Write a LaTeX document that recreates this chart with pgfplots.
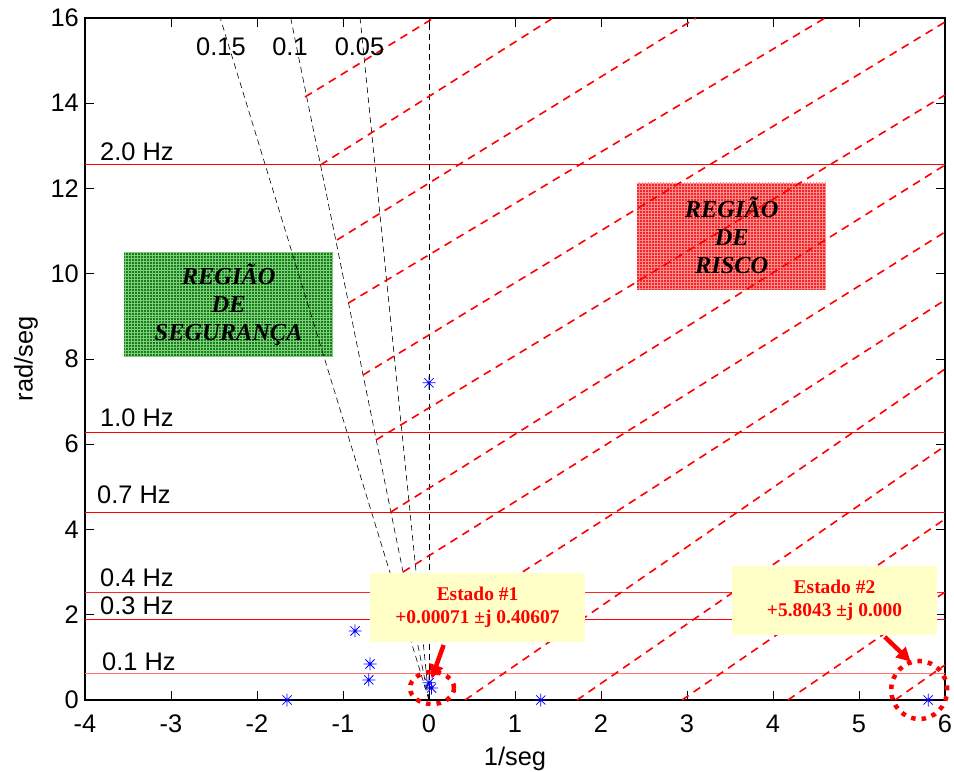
\documentclass[border=0pt]{standalone}
\usepackage{pgfplots}
\pgfplotsset{compat=1.18}
\usepackage{fontspec}
\setmainfont{Liberation Sans}
\newfontfamily\tnr{Liberation Serif}
\usetikzlibrary{patterns,arrows.meta}
\definecolor{mblue}{rgb}{0,0,1}
\definecolor{lyel}{rgb}{1,1,0.78}
\definecolor{gbox}{rgb}{0.08,0.50,0.08}
\definecolor{gpat}{rgb}{0.50,0.80,0.50}
\definecolor{rbox}{rgb}{0.95,0.15,0.15}
\definecolor{rpat}{rgb}{1,0.55,0.55}
\pgfdeclareplotmark{mstar}{%
  \pgfpathmoveto{\pgfqpoint{-\pgfplotmarksize}{0pt}}\pgfpathlineto{\pgfqpoint{\pgfplotmarksize}{0pt}}%
  \pgfpathmoveto{\pgfqpoint{0pt}{-\pgfplotmarksize}}\pgfpathlineto{\pgfqpoint{0pt}{\pgfplotmarksize}}%
  \pgfpathmoveto{\pgfqpoint{-.707\pgfplotmarksize}{-.707\pgfplotmarksize}}\pgfpathlineto{\pgfqpoint{.707\pgfplotmarksize}{.707\pgfplotmarksize}}%
  \pgfpathmoveto{\pgfqpoint{-.707\pgfplotmarksize}{.707\pgfplotmarksize}}\pgfpathlineto{\pgfqpoint{.707\pgfplotmarksize}{-.707\pgfplotmarksize}}%
  \pgfusepathqstroke}
\begin{document}
\begin{tikzpicture}
\path[use as bounding box] (-85bp,-72bp) rectangle (869bp,700bp);
\begin{axis}[
  at={(0,0)}, anchor=south west,
  scale only axis, width=860bp, height=682bp,
  xmin=-4, xmax=6, ymin=0, ymax=16,
  xtick={-4,-3,...,6}, ytick={0,2,...,16},
  tick align=inside, major tick length=9bp,
  axis line style={line width=1.1bp},
  every tick/.style={black, line width=0.9bp},
  ticklabel style={font=\fontsize{25.5}{28}\selectfont, inner sep=1bp},
  xticklabel style={yshift=-14bp},
  yticklabel style={xshift=-5bp},
  /pgf/number format/assume math mode=true,
  xlabel={1/seg}, ylabel={rad/seg},
  label style={font=\fontsize{25.5}{28}\selectfont},
  xlabel style={yshift=-9bp},
  ylabel style={yshift=8bp},
  clip=false,
]
% region boxes
\fill[gbox] (axis cs:-3.547,8.05) rectangle (axis cs:-1.116,10.49);
\fill[pattern=grid, pattern color=gpat] (axis cs:-3.547,8.05) rectangle (axis cs:-1.116,10.49);
\fill[rbox] (axis cs:2.419,9.62) rectangle (axis cs:4.616,12.13);
\fill[pattern=grid, pattern color=rpat] (axis cs:2.419,9.62) rectangle (axis cs:4.616,12.13);
\node[font=\tnr\bfseries\itshape\fontsize{24.5}{28}\selectfont, align=center, black] at (axis cs:-2.33,9.27) {REGIÃO\\DE\\SEGURANÇA};
\node[font=\tnr\bfseries\itshape\fontsize{24.5}{28}\selectfont, align=center, black] at (axis cs:3.52,10.90) {REGIÃO\\DE\\RISCO};
% frequency lines
\addplot[red, line width=1bp] coordinates {(-4,12.566) (6,12.566)};
\addplot[red, line width=1bp] coordinates {(-4,6.283) (6,6.283)};
\addplot[red, line width=1bp] coordinates {(-4,4.398) (6,4.398)};
\addplot[red!85, line width=1bp] coordinates {(-4,2.513) (6,2.513)};
\addplot[red, line width=1bp] coordinates {(-4,1.885) (6,1.885)};
\addplot[red!55, line width=1bp] coordinates {(-4,0.628) (6,0.628)};
% damping lines
\addplot[black, line width=0.6bp, dash pattern=on 6bp off 4bp] coordinates {(0,0) (-2.427,16)};
\addplot[black, line width=0.6bp, dash pattern=on 6bp off 4bp] coordinates {(0,0) (-1.608,16)};
\addplot[black, line width=0.6bp, dash pattern=on 6bp off 4bp] coordinates {(0,0) (-0.801,16)};
\addplot[black, line width=0.6bp, dash pattern=on 6bp off 4bp] coordinates {(0,0) (0,16)};
\addplot[black, line width=1.1bp, dash pattern=on 6bp off 4bp] coordinates {(-4,0) (0,0)};
% hatch lines of the risk region
\addplot[red, line width=1.6bp, dash pattern=on 8bp off 6bp] coordinates {(-1.442,14.147) (0.054,16)};
\addplot[red, line width=1.6bp, dash pattern=on 8bp off 6bp] coordinates {(-1.262,12.551) (1.442,16)};
\addplot[red, line width=1.6bp, dash pattern=on 8bp off 6bp] coordinates {(-1.070,10.792) (3.105,16)};
\addplot[red, line width=1.6bp, dash pattern=on 8bp off 6bp] coordinates {(-0.936,9.314) (4.605,16)};
\addplot[red, line width=1.6bp, dash pattern=on 8bp off 6bp] coordinates {(-0.767,7.625) (6,15.906)};
\addplot[red, line width=1.6bp, dash pattern=on 8bp off 6bp] coordinates {(-0.616,6.100) (6,14.194)};
\addplot[red, line width=1.6bp, dash pattern=on 8bp off 6bp] coordinates {(-0.442,4.411) (6,12.551)};
\addplot[red, line width=1.6bp, dash pattern=on 8bp off 6bp] coordinates {(-0.302,3.003) (6,10.979)};
\addplot[red, line width=1.6bp, dash pattern=on 8bp off 6bp] coordinates {(-0.140,1.408) (6,9.384)};
\addplot[red, line width=1.6bp, dash pattern=on 8bp off 6bp] coordinates {(0.419,0) (6,7.765)};
\addplot[red, line width=1.6bp, dash pattern=on 8bp off 6bp] coordinates {(1.721,0) (6,5.959)};
\addplot[red, line width=1.6bp, dash pattern=on 8bp off 6bp] coordinates {(2.942,0) (6,4.246)};
\addplot[red, line width=1.6bp, dash pattern=on 8bp off 6bp] coordinates {(4.174,0) (6,2.534)};
\addplot[red, line width=1.6bp, dash pattern=on 8bp off 6bp] coordinates {(5.419,0) (6,0.821)};
% eigenvalues
\addplot[only marks, mark=mstar, mark size=6.5bp, mark options={mblue, line width=0.75bp}] coordinates {
 (0,7.44) (-0.86,1.62) (-0.686,0.845) (-0.70,0.47) (-1.65,0) (1.30,0) (5.8043,0) (0.0007,0.40607) (0.03,0.28)};
% labels
\begin{scope}[font=\fontsize{25.5}{28}\selectfont]
\node[anchor=base west, inner sep=0pt] at (axis cs:-3.826,12.657) {2.0 Hz};
\node[anchor=base west, inner sep=0pt] at (axis cs:-3.826,6.417) {1.0 Hz};
\node[anchor=base west, inner sep=0pt] at (axis cs:-3.860,4.610) {0.7 Hz};
\node[anchor=base west, inner sep=0pt] at (axis cs:-3.826,2.663) {0.4 Hz};
\node[anchor=base west, inner sep=0pt] at (axis cs:-3.826,2.005) {0.3 Hz};
\node[anchor=base west, inner sep=0pt] at (axis cs:-3.802,0.692) {0.1 Hz};
\node[anchor=base, inner sep=0pt] at (axis cs:-2.419,15.13) {0.15};
\node[anchor=base, inner sep=0pt] at (axis cs:-1.616,15.13) {0.1};
\node[anchor=base, inner sep=0pt] at (axis cs:-0.808,15.13) {0.05};
\end{scope}
% state boxes
\fill[lyel] (axis cs:-0.686,1.36) rectangle (axis cs:1.814,2.98);
\node[font=\tnr\bfseries\fontsize{19.5}{23}\selectfont, text=red, align=center] at (axis cs:0.564,2.17) {Estado \#1\\+0.00071 ±j 0.40607};
\fill[lyel] (axis cs:3.523,1.525) rectangle (axis cs:5.907,3.14);
\node[font=\tnr\bfseries\fontsize{19.5}{23}\selectfont, text=red, align=center] at (axis cs:4.715,2.33) {Estado \#2\\+5.8043 ±j 0.000};
% arrows and circles
\draw[red, line width=4.5bp, -{Triangle[length=14bp,width=14bp]}] (axis cs:0.17,1.29) -- (axis cs:0.03,0.50);
\draw[red, line width=4.5bp, -{Triangle[length=14bp,width=14bp]}] (axis cs:5.30,1.48) -- (axis cs:5.60,0.90);
\draw[red, line width=4.5bp, dash pattern=on 4.5bp off 6bp] (axis cs:0.035,0.28) ellipse [x radius=22bp, y radius=16bp];
\draw[red, line width=4.5bp, dash pattern=on 4.5bp off 6bp] (axis cs:5.70,0.235) ellipse [x radius=28bp, y radius=29bp];
\end{axis}
\end{tikzpicture}
\end{document}
